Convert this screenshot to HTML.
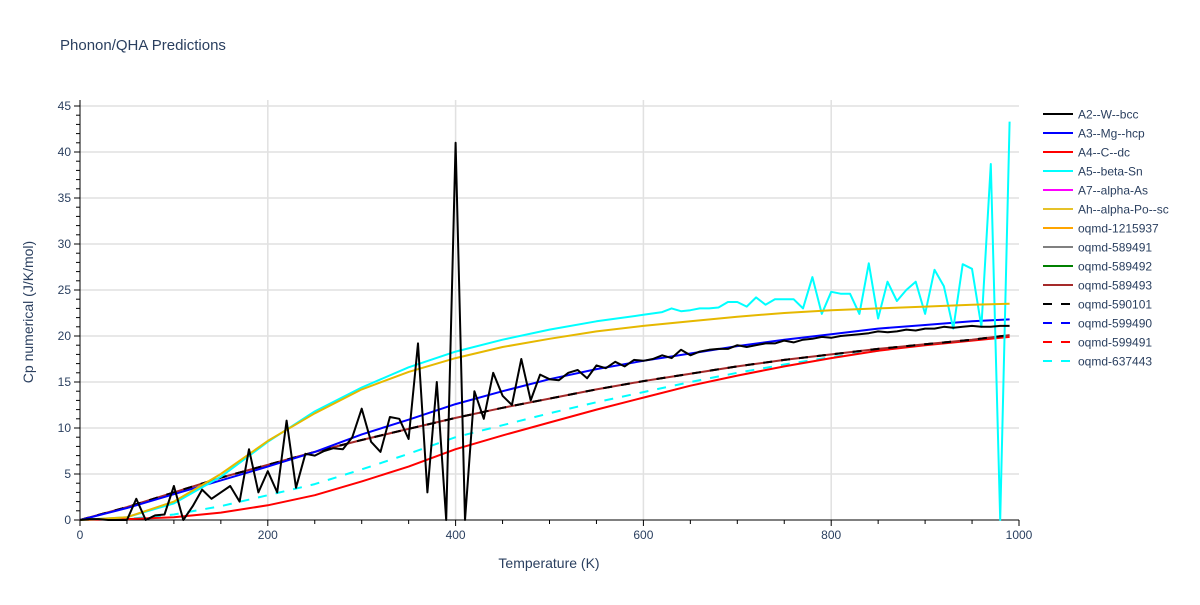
<!DOCTYPE html>
<html><head><meta charset="utf-8"><style>
body{margin:0;background:#fff;}
svg text{font-family:"Liberation Sans",Arial,sans-serif;}
</style></head><body>
<svg id="chart" width="1200" height="600" xmlns="http://www.w3.org/2000/svg">
<rect width="1200" height="600" fill="#fff"/>
<text x="60" y="50" font-size="15" fill="#2a3f5f">Phonon/QHA Predictions</text>
<g id="grid"></g>
<g id="axes"></g>
<g id="series"></g>
<text x="549" y="568" font-size="14" fill="#2a3f5f" text-anchor="middle">Temperature (K)</text>
<text transform="translate(33,312) rotate(-90)" font-size="14" fill="#2a3f5f" text-anchor="middle">Cp numerical (J/K/mol)</text>
<g id="legend"></g>
</svg>
<script>
const xTicks=[0,200,400,600,800,1000];
const yTicks=[0,5,10,15,20,25,30,35,40,45];
const tA2=[0,10,20,30,40,50,60,70,80,90,100,110,120,130,140,150,160,170,180,190,200,210,220,230,240,250,260,270,280,290,300,310,320,330,340,350,360,370,380,390,400,410,420,430,440,450,460,470,480,490,500,510,520,530,540,550,560,570,580,590,600,610,620,630,640,650,660,670,680,690,700,710,720,730,740,750,760,770,780,790,800,810,820,830,840,850,860,870,880,890,900,910,920,930,940,950,960,970,980,990];
const vA2=[0,0.1,0.1,0,0,0,2.3,0,0.5,0.6,3.7,0,1.5,3.3,2.3,3,3.7,2,7.7,3,5.3,3,10.8,3.5,7.2,7,7.5,7.8,7.7,9,12.1,8.5,7.4,11.2,11,8.8,19.2,3,15,0,41,0,14,11,16,13.5,12.5,17.5,13,15.8,15.3,15.2,16,16.3,15.4,16.8,16.5,17.2,16.7,17.4,17.3,17.5,17.9,17.6,18.5,17.9,18.3,18.5,18.6,18.6,19.0,18.8,19.0,19.2,19.2,19.5,19.3,19.6,19.7,19.9,19.8,20.0,20.1,20.2,20.3,20.5,20.4,20.5,20.7,20.6,20.8,20.8,21.0,20.9,21.0,21.1,21.0,21.0,21.1,21.1];
const tSmooth=[0,50,100,150,200,250,300,350,400,450,500,550,600,650,700,750,800,850,900,950,990];
const vA3=[0,1.3,2.8,4.3,5.8,7.4,9.3,10.9,12.6,14.0,15.3,16.4,17.3,18.1,18.9,19.6,20.2,20.8,21.2,21.6,21.8];
const vA4=[0,0.1,0.3,0.8,1.6,2.7,4.2,5.8,7.7,9.2,10.6,12.0,13.3,14.6,15.7,16.7,17.6,18.4,19.0,19.5,19.9];
const vAh=[0,0.3,2.0,5.0,8.6,11.6,14.2,16.1,17.6,18.8,19.7,20.5,21.1,21.6,22.1,22.5,22.8,23.0,23.2,23.4,23.5];
const vOq=[0,1.4,3.0,4.6,6.0,7.4,8.7,9.9,11.1,12.2,13.2,14.2,15.1,15.9,16.7,17.4,18.0,18.6,19.1,19.6,20.1];
const vOq637=[0,0.1,0.6,1.5,2.7,3.9,5.5,7.2,9.0,10.3,11.6,12.8,13.9,15.0,16.0,16.9,17.7,18.4,19.1,19.6,20.0];
const tA5=[0,50,100,150,200,250,300,350,400,450,500,550,600,620,630,640,650,660,670,680,690,700,710,720,730,740,750,760,770,780,790,800,810,820,830,840,850,860,870,880,890,900,910,920,930,940,950,960,970,980,990];
const vA5=[0,0.3,1.8,4.7,8.5,11.8,14.4,16.6,18.3,19.6,20.7,21.6,22.3,22.6,23.0,22.7,22.8,23.0,23.0,23.1,23.7,23.7,23.2,24.2,23.4,24.0,24.0,24.0,23.0,26.4,22.4,24.8,24.6,24.6,22.4,27.9,21.9,25.9,23.8,25.0,25.9,22.4,27.2,25.4,20.8,27.8,27.3,21.0,38.7,0,43.3];

const NS="http://www.w3.org/2000/svg";
const X0=80,X1=1019,Y0=520,Y1=106;
function xs(t){return X0+(t/1000)*(X1-X0);}
function ys(v){return Y0-(v/45)*(Y0-Y1);}
function mk(tag,attrs,parent){const e=document.createElementNS(NS,tag);for(const k in attrs)e.setAttribute(k,attrs[k]);parent.appendChild(e);return e;}
const grid=document.getElementById('grid'),axes=document.getElementById('axes'),ser=document.getElementById('series'),leg=document.getElementById('legend');
xTicks.forEach(t=>{
  if(t>0&&t<1000){const l=mk('line',{x1:xs(t),x2:xs(t),y1:Y1-6,y2:Y0,stroke:'#e1e1e1','stroke-width':1.5},grid);
  
  }
  const tx=mk('text',{x:xs(t),y:Y0+19,'font-size':12,fill:'#2a3f5f','text-anchor':'middle'},axes);tx.textContent=t;
  
  
});
for(let t=0;t<=1000;t+=50){mk('line',{x1:xs(t),x2:xs(t),y1:Y0,y2:Y0+(t%200==0?6:4),stroke:'#000','stroke-width':1},axes);}
yTicks.forEach(v=>{
  if(v>0){const l=mk('line',{x1:X0,x2:X1,y1:ys(v),y2:ys(v),stroke:'#e1e1e1','stroke-width':1.5},grid);
  
  }
  const tx=mk('text',{x:X0-9,y:ys(v)+4,'font-size':12,fill:'#2a3f5f','text-anchor':'end'},axes);tx.textContent=v;
  
  
});
for(let v=0;v<=45;v+=1){mk('line',{x1:X0,x2:X0-(v%5==0?6:4),y1:ys(v),y2:ys(v),stroke:'#000','stroke-width':1},axes);}
mk('line',{x1:X0,x2:X0,y1:Y1-6,y2:Y0,stroke:'#000','stroke-width':1},axes);
mk('line',{x1:X0,x2:X1,y1:Y0,y2:Y0,stroke:'#000','stroke-width':1},axes);

function series(name,T,V,color,dash){
  const d=T.map((t,i)=>(i?'L':'M')+xs(t).toFixed(1)+','+ys(V[i]).toFixed(1)).join('');
  const p=mk('path',{d:d,fill:'none',stroke:color,'stroke-width':2,'stroke-linejoin':'round'},ser);
  if(dash)p.setAttribute('stroke-dasharray','9,9');
  
  
}
series('line-oqmd-637443',tSmooth,vOq637,'#00ffff',true);
series('line-oqmd-599491',tSmooth,vOq,'#ff0000',true);
series('line-a4-c-dc',tSmooth,vA4,'#ff0000',false);
series('line-oqmd-589493',tSmooth,vOq,'#a52a2a',false);
series('line-oqmd-590101',tSmooth,vOq,'#000000',true);
series('line-a3-mg-hcp',tSmooth,vA3,'#0000ff',false);
series('line-a5-beta-sn',tA5,vA5,'#00ffff',false);
series('line-ah-alpha-po-sc',tSmooth,vAh,'#e6b800',false);
series('line-a2-w-bcc',tA2,vA2,'#000000',false);

const legNames=['A2--W--bcc','A3--Mg--hcp','A4--C--dc','A5--beta-Sn','A7--alpha-As','Ah--alpha-Po--sc','oqmd-1215937','oqmd-589491','oqmd-589492','oqmd-589493','oqmd-590101','oqmd-599490','oqmd-599491','oqmd-637443'];
const legColors=['#000000','#0000ff','#ff0000','#00ffff','#ff00ff','#e6c229','#ffa500','#808080','#008000','#a52a2a','#000000','#0000ff','#ff0000','#00ffff'];
legNames.forEach((n,i)=>{
  const y=114+i*19;
  const g=mk('g',{},leg);
  
  
  const l=mk('line',{x1:1043,x2:1073,y1:y,y2:y,stroke:legColors[i],'stroke-width':2},g);
  if(i>=10)l.setAttribute('stroke-dasharray','9,9');
  const t=mk('text',{x:1078,y:y+4.5,'font-size':12,fill:'#2a3f5f'},g);t.textContent=n;
});
</script>
</body></html>
